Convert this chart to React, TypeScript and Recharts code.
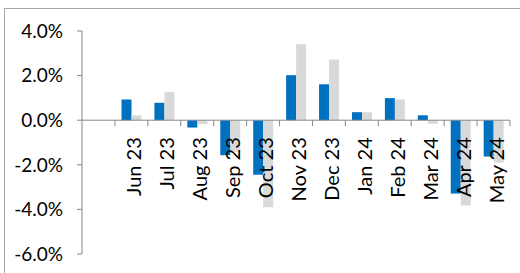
import { BarChart, Bar, XAxis, YAxis, ReferenceLine } from "recharts";

const categories = ["", "Jun 23", "Jul 23", "Aug 23", "Sep 23", "Oct 23", "Nov 23", "Dec 23", "Jan 24", "Feb 24", "Mar 24", "Apr 24", "May 24"];
const seriesBlue = [null, 0.93, 0.78, -0.33, -1.57, -2.45, 2.02, 1.61, 0.36, 0.99, 0.22, -3.29, -1.63];
const seriesGray = [null, 0.22, 1.27, -0.18, -1.42, -3.9, 3.41, 2.72, 0.36, 0.93, -0.16, -3.83, -1.9];
const yTicks = [-6, -4, -2, 0, 2, 4];

const data = categories.map((month, i) => ({ month, blue: seriesBlue[i], gray: seriesGray[i] }));

const FONT = "Lato, 'Liberation Sans', sans-serif";
const AXIS = "#878787";

function ZeroAxis(props: any) {
  const { x1, x2, y1 } = props;
  const band = (x2 - x1) / categories.length;
  return (
    <g>
      <line x1={x1} x2={x2} y1={y1} y2={y1} stroke={AXIS} strokeWidth={1} />
      {categories.map((c, i) => (
        <line key={"t" + i} x1={x1 + band * (i + 1)} x2={x1 + band * (i + 1)} y1={y1} y2={y1 + 6} stroke={AXIS} strokeWidth={1} />
      ))}
      {categories.map((c, i) => {
        const cx = x1 + band * (i + 0.5) + 2;
        const cy = y1 + 17;
        return (
          <text key={"l" + i} x={cx} y={cy} transform={`rotate(-90 ${cx} ${cy})`} textAnchor="end" dominantBaseline="central" fontFamily={FONT} fontSize={20} fill="#000">
            {c}
          </text>
        );
      })}
    </g>
  );
}

export default function App() {
  return (
    <div style={{ position: "relative", width: 520, height: 273, overflow: "hidden", background: "#fff" }}>
      <style>{"body{margin:0}"}</style>
      <div style={{ position: "absolute", left: 4, top: 8, width: 700, height: 500, border: "1px solid #a6a6a6" }} />
      <div style={{ position: "absolute", left: 0, top: 0 }}>
        <BarChart width={520} height={273} data={data} margin={{ top: 31, right: 10, left: 0, bottom: 19 }} barCategoryGap="20%" barGap={0}>
          <XAxis dataKey="month" hide />
          <YAxis
            width={82}
            domain={[-6, 4]}
            ticks={yTicks}
            interval={0}
            tickFormatter={(v: number) => `${v.toFixed(1)}%`}
            tick={{ fontFamily: FONT, fontSize: 19, fill: "#000" }}
            tickSize={5}
            tickMargin={14}
            axisLine={{ stroke: AXIS }}
            tickLine={{ stroke: AXIS }}
          />
          <Bar dataKey="blue" fill="#0070C0" isAnimationActive={false} />
          <Bar dataKey="gray" fill="#D9D9D9" isAnimationActive={false} />
          <ReferenceLine y={0} shape={(p: any) => <ZeroAxis {...p} />} />
        </BarChart>
      </div>
    </div>
  );
}
